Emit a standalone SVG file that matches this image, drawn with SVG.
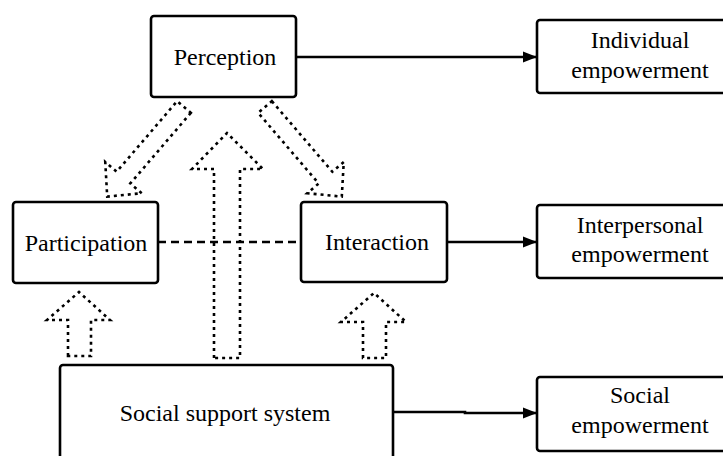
<svg xmlns="http://www.w3.org/2000/svg" width="723" height="456" viewBox="0 0 723 456">
<defs>
<style>
.box{fill:#fff;stroke:#000;stroke-width:2.6}
.t{font-size:24px;fill:#000;text-anchor:middle}
.ln{stroke:#000;stroke-width:2.6;fill:none}
.dash{stroke:#000;stroke-width:2.6;fill:none;stroke-dasharray:8 5}
.dot{stroke:#000;stroke-width:2.6;fill:none;stroke-dasharray:3 4}
</style>
<marker id="ah" markerWidth="16" markerHeight="14" refX="14" refY="7" orient="auto" markerUnits="userSpaceOnUse">
<path d="M0,1.5 L14,7 L0,12.5 Z" fill="#000"/>
</marker>
</defs>
<rect width="723" height="456" fill="#fff"/>
<g id="connectors">
<line class="ln" x1="296" y1="57" x2="537" y2="57" marker-end="url(#ah)"/>
<line class="ln" x1="447" y1="242" x2="537" y2="242" marker-end="url(#ah)"/>
<polyline class="ln" points="393,412 465,412 465,413 537,413" marker-end="url(#ah)"/>
<line class="dash" x1="158" y1="242" x2="301" y2="242"/>
<polygon class="dot" transform="translate(184,107) rotate(130.6)" points="0,-9 93,-9 93,-24 118,0 93,24 93,9 0,9"/>
<polygon class="dot" transform="translate(265,107) rotate(49.4)" points="0,-9 93,-9 93,-24 118,0 93,24 93,9 0,9"/>
<polygon class="dot" points="214,358 214,169 192,169 227,133 263,169 240,169 240,358"/>
<polygon class="dot" points="68,356 68,320 47,320 79,292 110,320 91,320 91,356"/>
<polygon class="dot" points="363,358 363,322 341,322 374,293 406,322 386,322 386,358"/>
</g>
<g font-family="Liberation Serif, Tinos, Times New Roman, DejaVu Serif, serif">
<g id="perception">
<rect class="box" x="151" y="16" width="145" height="81" rx="3"/>
<text class="t" x="225" y="65">Perception</text>
</g>
<g id="participation">
<rect class="box" x="13" y="202" width="145" height="81" rx="3"/>
<text class="t" x="86" y="251">Participation</text>
</g>
<g id="interaction">
<rect class="box" x="301" y="202" width="146" height="80" rx="3"/>
<text class="t" x="377" y="250">Interaction</text>
</g>
<g id="social-support">
<rect class="box" x="60" y="365" width="333" height="100" rx="3"/>
<text class="t" x="225" y="421">Social support system</text>
</g>
<g id="individual">
<rect class="box" x="537" y="20" width="200" height="73" rx="3"/>
<text class="t" x="640" y="48">Individual</text>
<text class="t" x="640" y="78">empowerment</text>
</g>
<g id="interpersonal">
<rect class="box" x="537" y="205" width="200" height="73" rx="3"/>
<text class="t" x="640" y="233">Interpersonal</text>
<text class="t" x="640" y="262">empowerment</text>
</g>
<g id="social">
<rect class="box" x="537" y="377" width="200" height="74" rx="3"/>
<text class="t" x="640" y="403">Social</text>
<text class="t" x="640" y="433">empowerment</text>
</g>
</g>
</svg>
